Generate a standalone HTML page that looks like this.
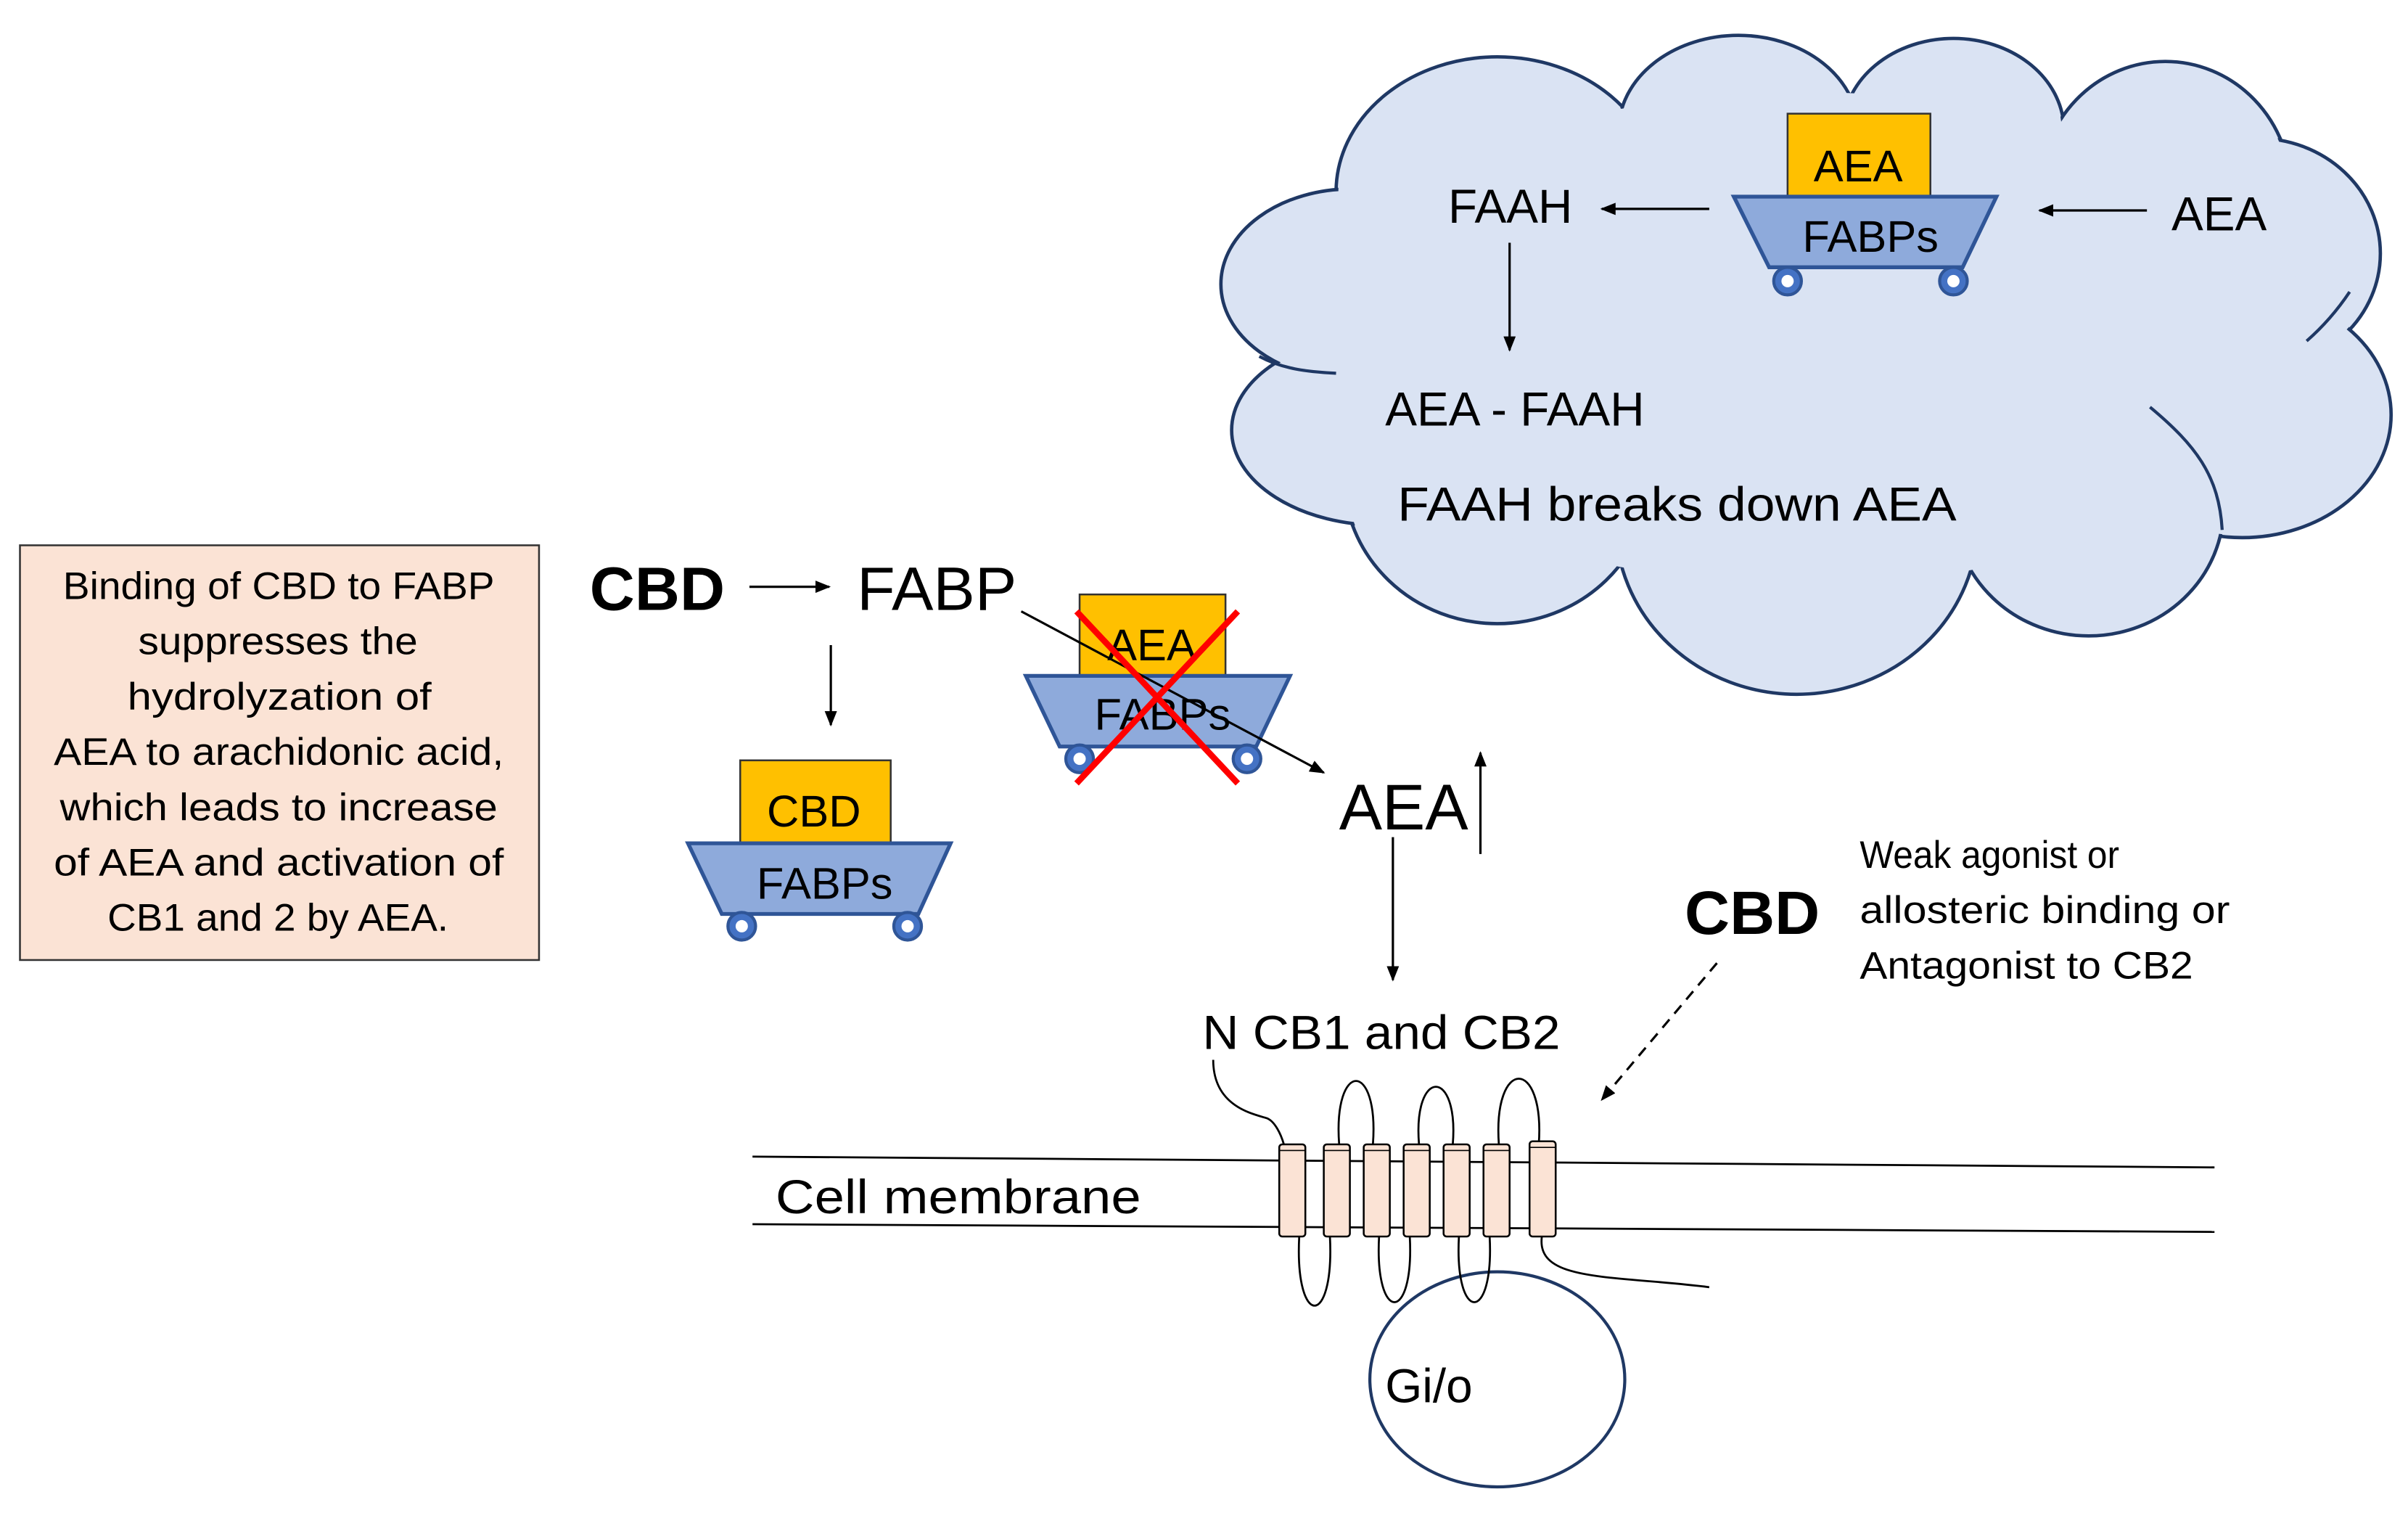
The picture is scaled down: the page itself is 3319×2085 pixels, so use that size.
<!DOCTYPE html>
<html><head><meta charset="utf-8"><style>
html,body{margin:0;padding:0;background:#fff;}
svg{display:block;}
text{font-family:"Liberation Sans",sans-serif;fill:#000;}
</style></head><body>
<svg width="3319" height="2085" viewBox="0 0 1568 985" xmlns="http://www.w3.org/2000/svg">
<defs>
<marker id="ah" markerWidth="10" markerHeight="8" refX="9" refY="4" orient="auto" markerUnits="userSpaceOnUse"><path d="M0,0 L10,4 L0,8 z" fill="#000"/></marker>
</defs>
<!-- Cloud -->
<g fill="#dae3f3" stroke="#1f3864" stroke-width="2.2">
<ellipse cx="975" cy="125" rx="105" ry="88"/>
<ellipse cx="1132" cy="85" rx="78" ry="62"/>
<ellipse cx="1272" cy="85" rx="72" ry="60"/>
<ellipse cx="1410" cy="125" rx="82" ry="85"/>
<ellipse cx="1470" cy="165" rx="80" ry="75"/>
<ellipse cx="1460" cy="270" rx="97" ry="80"/>
<ellipse cx="1360" cy="330" rx="88" ry="84"/>
<ellipse cx="1170" cy="340" rx="118" ry="112"/>
<ellipse cx="975" cy="310" rx="100" ry="96"/>
<ellipse cx="900" cy="280" rx="98" ry="62"/>
<ellipse cx="880" cy="185" rx="85" ry="62"/>
</g>
<g fill="#dae3f3" stroke="none">
<ellipse cx="975" cy="125" rx="103.5" ry="86.5"/>
<ellipse cx="1132" cy="85" rx="76.5" ry="60.5"/>
<ellipse cx="1272" cy="85" rx="70.5" ry="58.5"/>
<ellipse cx="1410" cy="125" rx="80.5" ry="83.5"/>
<ellipse cx="1470" cy="165" rx="78.5" ry="73.5"/>
<ellipse cx="1460" cy="270" rx="95.5" ry="78.5"/>
<ellipse cx="1360" cy="330" rx="86.5" ry="82.5"/>
<ellipse cx="1170" cy="340" rx="116.5" ry="110.5"/>
<ellipse cx="975" cy="310" rx="98.5" ry="94.5"/>
<ellipse cx="900" cy="280" rx="96.5" ry="60.5"/>
<ellipse cx="880" cy="185" rx="83.5" ry="60.5"/>
<ellipse cx="1175" cy="220" rx="330" ry="160"/>
</g>
<g fill="none" stroke="#1f3864" stroke-width="2">
<path d="M820,232 C835,240 850,242 870,243"/>
<path d="M1400,265 C1430,290 1445,310 1447,345"/>
<path d="M1530,190 C1520,205 1510,215 1502,222"/>
</g>
<!-- cloud contents -->
<text x="943" y="145" font-size="31">FAAH</text>
<line x1="1113" y1="136" x2="1043" y2="136" stroke="#000" stroke-width="1.5" marker-end="url(#ah)"/>
<line x1="1398" y1="137" x2="1328" y2="137" stroke="#000" stroke-width="1.5" marker-end="url(#ah)"/>
<text x="1414" y="150" font-size="31">AEA</text>
<line x1="983" y1="158" x2="983" y2="228" stroke="#000" stroke-width="1.5" marker-end="url(#ah)"/>
<text x="902" y="277" font-size="31">AEA - FAAH</text>
<text x="910" y="339" font-size="31" textLength="364" lengthAdjust="spacingAndGlyphs">FAAH breaks down AEA</text>
<!-- cart in cloud -->
<rect x="1164" y="74" width="93" height="54" fill="#ffc000" stroke="#333" stroke-width="1.2"/>
<text x="1210" y="118" font-size="29" text-anchor="middle">AEA</text>
<path d="M1129,128 L1300,128 L1278,174 L1152,174 Z" fill="#8eaadb" stroke="#2f5597" stroke-width="2.5"/>
<text x="1218" y="164" font-size="29" text-anchor="middle">FABPs</text>
<circle cx="1164" cy="183" r="9" fill="#4472c4" stroke="#2f5597" stroke-width="2"/><circle cx="1164" cy="183" r="4" fill="#fff"/>
<circle cx="1272" cy="183" r="9" fill="#4472c4" stroke="#2f5597" stroke-width="2"/><circle cx="1272" cy="183" r="4" fill="#fff"/>
<!-- text box -->
<rect x="13" y="355" width="338" height="270" fill="#fbe3d5" stroke="#333" stroke-width="1.2"/>
<g font-size="25" lengthAdjust="spacingAndGlyphs">
<text x="41" y="390" textLength="281" lengthAdjust="spacingAndGlyphs">Binding of CBD to FABP</text>
<text x="90" y="426" textLength="182" lengthAdjust="spacingAndGlyphs">suppresses the</text>
<text x="83" y="462" textLength="198" lengthAdjust="spacingAndGlyphs">hydrolyzation of</text>
<text x="35" y="498" textLength="293" lengthAdjust="spacingAndGlyphs">AEA to arachidonic acid,</text>
<text x="39" y="534" textLength="285" lengthAdjust="spacingAndGlyphs">which leads to increase</text>
<text x="35" y="570" textLength="293" lengthAdjust="spacingAndGlyphs">of AEA and activation of</text>
<text x="70" y="606" textLength="222" lengthAdjust="spacingAndGlyphs">CB1 and 2 by AEA.</text>
</g>
<!-- CBD -> FABP -->
<text x="384" y="397" font-size="40" font-weight="bold" textLength="88" lengthAdjust="spacingAndGlyphs">CBD</text>
<line x1="488" y1="382" x2="540" y2="382" stroke="#000" stroke-width="1.5" marker-end="url(#ah)"/>
<text x="558" y="397" font-size="40" textLength="104" lengthAdjust="spacingAndGlyphs">FABP</text>
<line x1="541" y1="420" x2="541" y2="472" stroke="#000" stroke-width="1.5" marker-end="url(#ah)"/>
<!-- CBD cart -->
<rect x="482" y="495" width="98" height="54" fill="#ffc000" stroke="#333" stroke-width="1.2"/>
<text x="530" y="538" font-size="29" text-anchor="middle">CBD</text>
<path d="M448,549 L619,549 L598,595 L470,595 Z" fill="#8eaadb" stroke="#2f5597" stroke-width="2.5"/>
<text x="537" y="585" font-size="29" text-anchor="middle">FABPs</text>
<circle cx="483" cy="603" r="9" fill="#4472c4" stroke="#2f5597" stroke-width="2"/><circle cx="483" cy="603" r="4" fill="#fff"/>
<circle cx="591" cy="603" r="9" fill="#4472c4" stroke="#2f5597" stroke-width="2"/><circle cx="591" cy="603" r="4" fill="#fff"/>
<!-- crossed cart -->
<rect x="703" y="387" width="95" height="53" fill="#ffc000" stroke="#333" stroke-width="1.2"/>
<text x="750" y="430" font-size="29" text-anchor="middle">AEA</text>
<path d="M668,440 L840,440 L818,486 L690,486 Z" fill="#8eaadb" stroke="#2f5597" stroke-width="2.5"/>
<text x="757" y="475" font-size="29" text-anchor="middle">FABPs</text>
<circle cx="703" cy="494" r="9" fill="#4472c4" stroke="#2f5597" stroke-width="2"/><circle cx="703" cy="494" r="4" fill="#fff"/>
<circle cx="812" cy="494" r="9" fill="#4472c4" stroke="#2f5597" stroke-width="2"/><circle cx="812" cy="494" r="4" fill="#fff"/>
<line x1="665" y1="398" x2="862" y2="503" stroke="#000" stroke-width="1.5" marker-end="url(#ah)"/>
<line x1="701" y1="398" x2="806" y2="510" stroke="#ff0000" stroke-width="4"/>
<line x1="806" y1="398" x2="701" y2="510" stroke="#ff0000" stroke-width="4"/>
<!-- AEA -->
<text x="872" y="540" font-size="42">AEA</text>
<line x1="964" y1="556" x2="964" y2="490" stroke="#000" stroke-width="1.5" marker-end="url(#ah)"/>
<line x1="907" y1="545" x2="907" y2="638" stroke="#000" stroke-width="1.5" marker-end="url(#ah)"/>
<text x="783" y="683" font-size="31" textLength="233" lengthAdjust="spacingAndGlyphs">N CB1 and CB2</text>
<!-- CBD right -->
<text x="1097" y="608" font-size="40" font-weight="bold" textLength="88" lengthAdjust="spacingAndGlyphs">CBD</text>
<g font-size="25">
<text x="1211" y="565" textLength="169" lengthAdjust="spacingAndGlyphs">Weak agonist or</text>
<text x="1211" y="601" textLength="241" lengthAdjust="spacingAndGlyphs">allosteric binding or</text>
<text x="1211" y="637" textLength="217" lengthAdjust="spacingAndGlyphs">Antagonist to CB2</text>
</g>
<line x1="1118" y1="627" x2="1043" y2="716" stroke="#000" stroke-width="1.5" stroke-dasharray="7,5" marker-end="url(#ah)"/>
<!-- Gi/o -->
<ellipse cx="975" cy="898" rx="83" ry="70" fill="#fff" stroke="#1f3864" stroke-width="2"/>
<text x="902" y="913" font-size="31">Gi/o</text>
<!-- membrane -->
<line x1="490" y1="753" x2="1442" y2="760" stroke="#000" stroke-width="1.3"/>
<line x1="490" y1="797" x2="1442" y2="802" stroke="#000" stroke-width="1.3"/>
<text x="505" y="790" font-size="31" textLength="238" lengthAdjust="spacingAndGlyphs">Cell membrane</text>
<!-- loops -->
<g fill="none" stroke="#000" stroke-width="1.3">
<path d="M790,690 C790,720 815,725 825,728 C830,730 834,738 836,745"/>
<path d="M872,745 C868,690 898,690 894,745"/>
<path d="M924,745 C920,695 950,695 946,745"/>
<path d="M976,745 C972,688 1006,688 1002,745"/>
<path d="M846,805 C843,865 869,865 866,805"/>
<path d="M898,805 C895,862 921,862 918,805"/>
<path d="M950,805 C947,862 973,862 970,805"/>
<path d="M1004,805 C1000,835 1050,830 1113,838"/>
</g>
<g fill="#fbe3d5" stroke="#000" stroke-width="1.2">
<rect x="833" y="745" width="17" height="60" rx="2"/>
<rect x="862" y="745" width="17" height="60" rx="2"/>
<rect x="888" y="745" width="17" height="60" rx="2"/>
<rect x="914" y="745" width="17" height="60" rx="2"/>
<rect x="940" y="745" width="17" height="60" rx="2"/>
<rect x="966" y="745" width="17" height="60" rx="2"/>
<rect x="996" y="743" width="17" height="62" rx="2"/>
</g>
<g fill="none" stroke="#000" stroke-width="0.8">
<line x1="833" y1="749" x2="850" y2="749"/><line x1="862" y1="749" x2="879" y2="749"/><line x1="888" y1="749" x2="905" y2="749"/><line x1="914" y1="749" x2="931" y2="749"/><line x1="940" y1="749" x2="957" y2="749"/><line x1="966" y1="749" x2="983" y2="749"/><line x1="996" y1="747" x2="1013" y2="747"/>
</g>
</svg>
</body></html>
